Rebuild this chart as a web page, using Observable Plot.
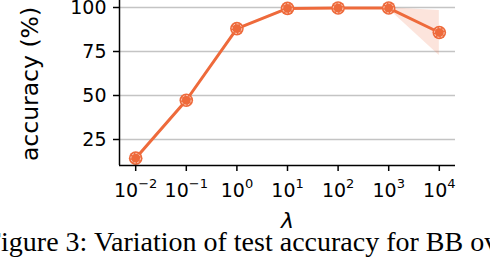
<!DOCTYPE html>
<html>
<head>
<meta charset="utf-8">
<script src="https://cdn.jsdelivr.net/npm/d3@7"></script>
<script src="https://cdn.jsdelivr.net/npm/@observablehq/plot@0.6"></script>
<style>
  html, body { margin: 0; padding: 0; background: #fff; overflow: hidden; }
</style>
</head>
<body>
<div id="chart"></div>
<script>
const lambdas = [1e-2, 1e-1, 1e0, 1e1, 1e2, 1e3, 1e4];
const accuracy = [14.4, 47.3, 88.0, 99.5, 99.7, 99.7, 85.8];
const accLow   = [13.8, 46.8, 87.6, 99.2, 99.4, 99.2, 72.7];
const accHigh  = [15.0, 47.8, 88.4, 99.8, 99.9, 99.9, 98.3];
const yTicks = [25, 50, 75, 100];
const xTicks = [1e-2, 1e-1, 1e0, 1e1, 1e2, 1e3, 1e4];
const xExponents = ["\u22122", "\u22121", "0", "1", "2", "3", "4"];
const yLabel = "accuracy (%)";
const xLabel = "\u03BB";
const caption = "Figure 3: Variation of test accuracy for BB over";

const data = lambdas.map((l, i) => ({lambda: l, acc: accuracy[i], lo: accLow[i], hi: accHigh[i]}));
const tickData = xTicks.map((t, i) => ({t, e: xExponents[i]}));
const negTicks = tickData.filter(d => d.t < 1);
const posTicks = tickData.filter(d => d.t >= 1);

const orange = "#ee6a3b";
const xDomain = [Math.pow(10, -2.32), Math.pow(10, 4.32)];
const yDomain = [10.23, 103.98];

const chart = Plot.plot({
  width: 490,
  height: 258,
  marginLeft: 119,
  marginRight: 35,
  marginTop: 0,
  marginBottom: 93,
  style: {fontFamily: "DejaVu Sans", background: "#fff", color: "#000"},
  x: {type: "log", domain: xDomain},
  y: {domain: yDomain},
  marks: [
    Plot.gridY(yTicks, {stroke: "#c4c4c4", strokeOpacity: 1, strokeWidth: 1.5}),
    Plot.areaY(data, {x: "lambda", y1: "lo", y2: "hi", fill: orange, fillOpacity: 0.18}),
    Plot.lineY(data, {x: "lambda", y: "acc", stroke: orange, strokeWidth: 3}),
    Plot.dot(data, {x: "lambda", y: "acc", r: 6.8, fill: orange, stroke: "none"}),
    Plot.dot(data, {x: "lambda", y: "acc", r: 4.8, fill: "none", stroke: "#fff", strokeWidth: 0.8, strokeOpacity: 0.8, strokeDasharray: "2.2,1.4"}),
    Plot.ruleX([xDomain[0]], {stroke: "#000", strokeWidth: 1.5}),
    Plot.ruleY([yDomain[0]], {stroke: "#000", strokeWidth: 1.5}),
    Plot.axisY(yTicks, {tickSize: 6, tickPadding: 7, fontSize: 19, strokeWidth: 1.5, label: null, tickFormat: d => String(d)}),
    Plot.axisX(xTicks, {tickSize: 6, strokeWidth: 1.5, label: null, tickFormat: () => ""}),
    Plot.text(negTicks, {x: "t", frameAnchor: "bottom", text: () => "10", textAnchor: "end", lineAnchor: "bottom", dy: 31, dx: 2.5, fontSize: 19}),
    Plot.text(negTicks, {x: "t", frameAnchor: "bottom", text: "e", textAnchor: "start", lineAnchor: "bottom", dy: 22, dx: 2.5, fontSize: 13}),
    Plot.text(posTicks, {x: "t", frameAnchor: "bottom", text: () => "10", textAnchor: "end", lineAnchor: "bottom", dy: 31, dx: 8, fontSize: 19}),
    Plot.text(posTicks, {x: "t", frameAnchor: "bottom", text: "e", textAnchor: "start", lineAnchor: "bottom", dy: 22, dx: 8, fontSize: 13}),
    Plot.text([yLabel], {frameAnchor: "left", text: d => d, rotate: -90, dx: -89, dy: 1, fontSize: 23.5, textAnchor: "middle", lineAnchor: "middle"}),
    Plot.text([xLabel], {frameAnchor: "bottom", text: d => d, dy: 62, fontSize: 22, fontStyle: "italic", lineAnchor: "bottom"}),
    Plot.text([caption], {frameAnchor: "bottom-left", text: d => d, dx: -134, dy: 85, textAnchor: "start", lineAnchor: "bottom", fontSize: 28, fontFamily: "Liberation Serif"})
  ]
});
document.getElementById("chart").appendChild(chart);
</script>
</body>
</html>
